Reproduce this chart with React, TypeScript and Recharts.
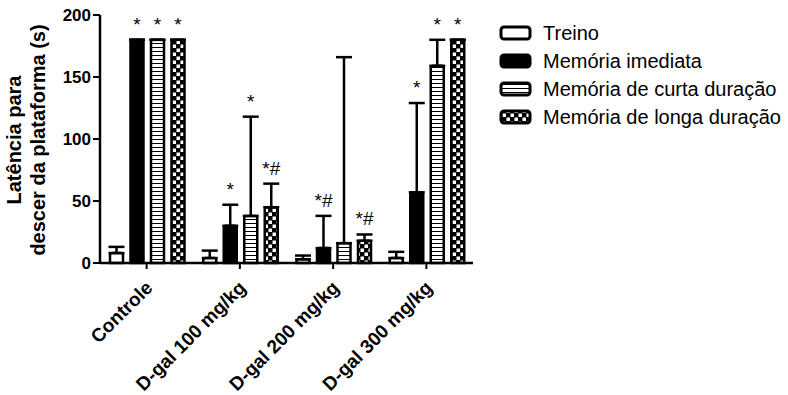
import { BarChart, Bar, XAxis, YAxis, ErrorBar, LabelList } from "recharts";

const FONT = "'Liberation Sans', Arial, Helvetica, sans-serif";

// grupos
const categories = ["Controle", "D-gal 100 mg/kg", "D-gal 200 mg/kg", "D-gal 300 mg/kg"];

// médias (s) e erro superior
const treino = [8, 4, 3, 4];
const treinoErr = [5, 6, 3, 5];
const imediata = [180, 30, 12, 57];
const imediataErr = [0, 17, 26, 72];
const curta = [180, 38, 16, 159];
const curtaErr = [0, 80, 150, 21];
const longa = [180, 45, 18, 180];
const longaErr = [0, 19, 5, 0];

// marcas de significância
const imediataMarks = ["*", "*", "*#", "*"];
const curtaMarks = ["*", "*", "", "*"];
const longaMarks = ["*", "*#", "*#", "*"];

const yTicks = [0, 50, 100, 150, 200];

const seriesNames = ["Treino", "Memória imediata", "Memória de curta duração", "Memória de longa duração"];

const data = categories.map((name, i) => ({
  name,
  treino: treino[i],
  treinoErr: [0, treinoErr[i]],
  imediata: imediata[i],
  imediataErr: [0, imediataErr[i]],
  curta: curta[i],
  curtaErr: [0, curtaErr[i]],
  longa: longa[i],
  longaErr: [0, longaErr[i]],
}));

// desenha "*" / "*#" acima da barra de erro
function marksLabel(marks: string[], errs: number[]) {
  return (props: any) => {
    const { x, y, width, height, value, index } = props;
    const mark = marks[index];
    if (!mark) return null;
    const perUnit = Number(height) / Number(value);
    const top = Number(y) - errs[index] * perUnit;
    return (
      <text
        x={Number(x) + Number(width) / 2}
        y={top - 9}
        textAnchor="middle"
        fontSize={19}
        fontFamily={FONT}
        fill="#000"
      >
        {mark}
      </text>
    );
  };
}

const XTick = ({ x, y, payload }: any) => (
  <text
    transform={`translate(${x + 7},${y + 20}) rotate(-45)`}
    textAnchor="end"
    fontSize={19}
    fontWeight="bold"
    fontFamily={FONT}
    fill="#000"
  >
    {payload.value}
  </text>
);

function Patterns({ suffix }: { suffix: string }) {
  return (
    <defs>
      <pattern id={`stripes${suffix}`} width="6" height="4" patternUnits="userSpaceOnUse">
        <rect width="6" height="4" fill="#fff" />
        <rect y="3" width="6" height="1.4" fill="#000" />
      </pattern>
      <pattern id={`checks${suffix}`} width="8" height="8" patternUnits="userSpaceOnUse">
        <rect width="8" height="8" fill="#000" />
        <rect x="0.5" y="0.5" width="3.5" height="3.5" fill="#fff" />
        <rect x="4.5" y="4.5" width="3.5" height="3.5" fill="#fff" />
      </pattern>
    </defs>
  );
}

const fills = ["#fff", "#000", "url(#stripesL)", "url(#checksL)"];

function Legend() {
  return (
    <svg width={300} height={140} style={{ position: "absolute", left: 490, top: 0 }}>
      <Patterns suffix="L" />
      {seriesNames.map((s, i) => (
        <g key={s} transform={`translate(0, ${33 + i * 28})`}>
          <rect x={11} y={-6} width={29} height={12} rx={3} fill={fills[i]} stroke="#000" strokeWidth={3} />
          <text x={53} y={7} fontSize={20} fontFamily={FONT} fill="#000">
            {s}
          </text>
        </g>
      ))}
    </svg>
  );
}

export default function App() {
  return (
    <div style={{ position: "absolute", left: 0, top: 0, width: 788, height: 395, background: "#fff" }}>
      <BarChart
        width={788}
        height={395}
        data={data}
        margin={{ top: 15, right: 315, bottom: 0, left: 0 }}
        barCategoryGap={10}
        barGap={7.5}
      >
        <Patterns suffix="" />
        <XAxis
          dataKey="name"
          height={132}
          interval={0}
          tick={<XTick />}
          tickSize={6}
          tickMargin={0}
          axisLine={{ stroke: "#000", strokeWidth: 2.5 }}
          tickLine={{ stroke: "#000", strokeWidth: 2 }}
        />
        <YAxis
          width={100}
          domain={[0, 200]}
          ticks={yTicks}
          tickSize={7}
          tickMargin={2}
          axisLine={{ stroke: "#000", strokeWidth: 2.5 }}
          tickLine={{ stroke: "#000", strokeWidth: 2 }}
          tick={{ fontSize: 17, fontWeight: "bold", fontFamily: FONT, fill: "#000" }}
        />
        <Bar dataKey="treino" fill="#fff" stroke="#000" strokeWidth={2.5} radius={[2, 2, 0, 0]} isAnimationActive={false}>
          <ErrorBar dataKey="treinoErr" width={8} stroke="#000" strokeWidth={2.5} direction="y" />
        </Bar>
        <Bar dataKey="imediata" fill="#000" stroke="#000" strokeWidth={2.5} radius={[2, 2, 0, 0]} isAnimationActive={false}>
          <ErrorBar dataKey="imediataErr" width={8} stroke="#000" strokeWidth={2.5} direction="y" />
          <LabelList dataKey="imediata" content={marksLabel(imediataMarks, imediataErr)} />
        </Bar>
        <Bar dataKey="curta" fill="url(#stripes)" stroke="#000" strokeWidth={2.5} radius={[2, 2, 0, 0]} isAnimationActive={false}>
          <ErrorBar dataKey="curtaErr" width={8} stroke="#000" strokeWidth={2.5} direction="y" />
          <LabelList dataKey="curta" content={marksLabel(curtaMarks, curtaErr)} />
        </Bar>
        <Bar dataKey="longa" fill="url(#checks)" stroke="#000" strokeWidth={2.5} radius={[2, 2, 0, 0]} isAnimationActive={false}>
          <ErrorBar dataKey="longaErr" width={8} stroke="#000" strokeWidth={2.5} direction="y" />
          <LabelList dataKey="longa" content={marksLabel(longaMarks, longaErr)} />
        </Bar>
        <text transform="translate(21, 140) rotate(-90)" textAnchor="middle" fontSize={20} fontWeight="bold" fontFamily={FONT} fill="#000">
          Latência para
        </text>
        <text transform="translate(45, 140) rotate(-90)" textAnchor="middle" fontSize={20} fontWeight="bold" fontFamily={FONT} fill="#000">
          descer da plataforma (s)
        </text>
      </BarChart>
      <Legend />
    </div>
  );
}
